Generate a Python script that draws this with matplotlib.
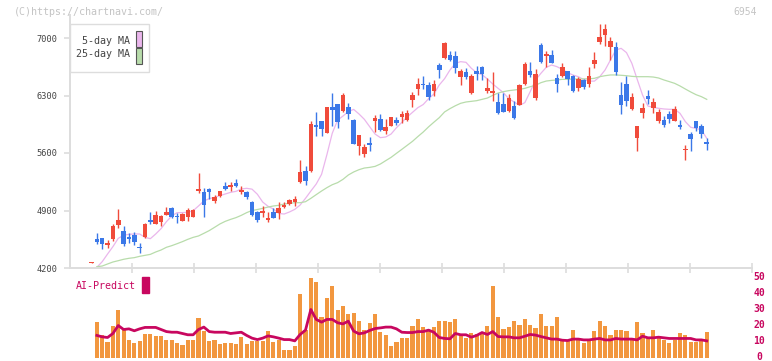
import numpy as np
import matplotlib
matplotlib.use('Agg')
import matplotlib.pyplot as plt
import matplotlib.transforms as mtransforms
from matplotlib.patches import Rectangle

plt.rcParams['font.family'] = 'DejaVu Sans Mono'

# daily candles (yen), oldest first
opens = [4266, 4553, 4565, 4484, 4553, 4727, 4650, 4573, 4602, 4460,
         4577, 4784, 4740, 4760, 4849, 4926, 4833, 4776, 4825, 4821,
         5137, 5125, 5162, 5020, 5081, 5202, 5190, 5239, 5129, 5125,
         5008, 4886, 4865, 4784, 4882, 4873, 4942, 4979, 5003, 5247,
         5381, 5385, 5941, 5989, 5847, 6156, 6196, 6115, 6160, 6002,
         5689, 5588, 5725, 5993, 6014, 5872, 5924, 6002, 6042, 6002,
         6245, 6383, 6440, 6428, 6359, 6671, 6760, 6793, 6781, 6529,
         6586, 6334, 6602, 6651, 6359, 6326, 6225, 6196, 6111, 6172,
         6184, 6440, 6602, 6265, 6915, 6781, 6797, 6517, 6537, 6602,
         6541, 6395, 6493, 6444, 6683, 6951, 7037, 6886, 6886, 6306,
         6440, 6140, 5787, 6091, 6294, 6152, 5994, 6002, 6075, 5994,
         5941, 5641, 5832, 5990, 5929, 5734]
highs = [4272, 4626, 4565, 4537, 4732, 4918, 4711, 4630, 4638, 4508,
         4744, 4882, 4890, 4841, 4943, 4939, 4865, 4865, 4930, 4914,
         5361, 5174, 5174, 5085, 5141, 5247, 5247, 5279, 5198, 5137,
         5020, 4890, 4955, 4886, 4930, 4999, 5007, 5040, 5072, 5515,
         5442, 5989, 6099, 5989, 6160, 6334, 6196, 6326, 6204, 6010,
         5819, 5709, 5790, 6062, 6079, 6010, 6038, 6042, 6115, 6123,
         6347, 6513, 6537, 6464, 6489, 6700, 6951, 6842, 6838, 6626,
         6635, 6561, 6659, 6659, 6517, 6590, 6334, 6334, 6318, 6229,
         6436, 6708, 6712, 6622, 6935, 6846, 6854, 6561, 6700, 6602,
         6549, 6529, 6505, 6651, 6830, 7171, 7171, 7008, 6951, 6469,
         6537, 6335, 5929, 6205, 6367, 6266, 6132, 6051, 6116, 6168,
         6002, 5698, 5856, 5990, 5953, 5787]
lows = [4266, 4496, 4435, 4448, 4533, 4687, 4468, 4500, 4480, 4387,
        4565, 4740, 4732, 4707, 4841, 4809, 4752, 4768, 4776, 4817,
        5109, 4825, 5044, 4987, 5068, 5150, 5141, 5190, 5101, 5036,
        4833, 4764, 4825, 4764, 4813, 4800, 4926, 4963, 4959, 5231,
        5214, 5373, 5807, 5807, 5839, 5929, 5908, 6103, 6014, 5705,
        5575, 5555, 5628, 5860, 5872, 5831, 5924, 5937, 5969, 5993,
        6164, 6306, 6383, 6245, 6294, 6513, 6744, 6716, 6578, 6428,
        6501, 6318, 6489, 6489, 6334, 6229, 6075, 6099, 6099, 6018,
        6184, 6428, 6521, 6241, 6700, 6651, 6700, 6347, 6521, 6428,
        6347, 6359, 6375, 6407, 6640, 6927, 6903, 6732, 6550, 6075,
        6172, 6124, 5628, 6030, 6197, 6091, 5969, 5913, 5969, 5994,
        5896, 5515, 5628, 5872, 5783, 5641]
closes = [4272, 4521, 4496, 4504, 4711, 4784, 4488, 4549, 4517, 4448,
          4736, 4760, 4849, 4833, 4882, 4821, 4817, 4857, 4906, 4906,
          5162, 4967, 5129, 5068, 5141, 5162, 5210, 5198, 5150, 5068,
          4845, 4784, 4894, 4808, 4813, 4930, 4967, 5024, 5040, 5368,
          5263, 5953, 5920, 5892, 6160, 6123, 5981, 6306, 6071, 5705,
          5819, 5669, 5701, 6026, 5880, 5916, 6038, 5961, 6075, 6091,
          6306, 6440, 6424, 6286, 6440, 6610, 6935, 6732, 6631, 6602,
          6529, 6541, 6562, 6562, 6395, 6351, 6091, 6103, 6269, 6030,
          6428, 6683, 6553, 6562, 6712, 6801, 6700, 6436, 6651, 6497,
          6359, 6501, 6407, 6537, 6732, 7016, 7110, 6964, 6590, 6184,
          6237, 6278, 5929, 6148, 6262, 6221, 6099, 5941, 6010, 6136,
          5921, 5653, 5775, 5909, 5832, 5714]

# moving averages as drawn (they begin on the second day)
ma5 = [4208, 4277, 4370, 4460, 4561, 4598, 4610, 4614, 4614, 4573,
       4557, 4614, 4679, 4764, 4833, 4874, 4874, 4878, 4898, 4955,
       5016, 5044, 5060, 5081, 5101, 5121, 5133, 5162, 5170, 5160,
       5098, 5003, 4951, 4918, 4865, 4857, 4882, 4914, 4967, 5048,
       5137, 5222, 5340, 5580, 5840, 6000, 6050, 6103, 6131, 6075,
       6010, 5920, 5831, 5787, 5795, 5831, 5908, 5973, 6038, 6095,
       6152, 6190, 6261, 6318, 6428, 6505, 6610, 6691, 6712, 6704,
       6631, 6578, 6553, 6501, 6440, 6387, 6334, 6261, 6221, 6180,
       6213, 6347, 6489, 6570, 6643, 6671, 6651, 6618, 6578, 6549,
       6529, 6493, 6475, 6475, 6529, 6611, 6732, 6854, 6874, 6822,
       6692, 6497, 6306, 6172, 6156, 6144, 6136, 6132, 6132, 6083,
       5982, 5913, 5900, 5880, 5779]
ma25 = [4216, 4224, 4249, 4273, 4289, 4306, 4318, 4326, 4342, 4354,
        4366, 4395, 4419, 4452, 4472, 4496, 4521, 4549, 4573, 4590,
        4622, 4655, 4695, 4736, 4768, 4792, 4813, 4841, 4874, 4900,
        4912, 4926, 4942, 4955, 4963, 4979, 4987, 4995, 4995, 5007,
        5048, 5093, 5137, 5178, 5214, 5239, 5279, 5332, 5369, 5397,
        5417, 5425, 5437, 5466, 5507, 5547, 5596, 5644, 5693, 5742,
        5800, 5855, 5918, 5975, 6030, 6100, 6140, 6175, 6205, 6221,
        6229, 6237, 6253, 6269, 6302, 6330, 6347, 6359, 6367, 6375,
        6387, 6407, 6424, 6456, 6476, 6484, 6489, 6497, 6497, 6501,
        6501, 6503, 6503, 6509, 6529, 6541, 6550, 6550, 6546, 6541,
        6533, 6529, 6529, 6529, 6525, 6513, 6489, 6469, 6448, 6416,
        6379, 6343, 6310, 6286, 6253]

# lower panel, also from the second day: volume (relative) and AI-Predict
volume = [22.5, 14.2, 10.0, 20.0, 29.4, 17.1, 10.8, 9.0, 10.2, 14.4,
          15.0, 13.3, 13.3, 10.8, 10.8, 9.0, 7.7, 10.8, 11.2, 25.0,
          16.5, 10.2, 10.8, 8.3, 9.0, 9.0, 8.3, 12.7, 8.3, 10.4,
          10.4, 10.2, 16.5, 9.4, 10.8, 5.0, 5.0, 6.9, 40.0, 16.9,
          49.4, 47.5, 25.6, 37.5, 45.0, 29.4, 32.5, 27.1, 28.1, 23.1,
          16.9, 21.5, 26.9, 15.8, 14.2, 7.5, 9.4, 12.5, 11.9, 20.0,
          23.8, 18.8, 17.5, 18.8, 23.1, 23.1, 21.9, 23.8, 14.4, 11.9,
          15.6, 14.4, 15.6, 20.0, 45.0, 25.6, 18.1, 18.8, 23.1, 20.6,
          23.8, 20.6, 18.3, 26.9, 20.0, 19.4, 25.6, 11.2, 10.2, 16.9,
          11.7, 8.8, 11.2, 16.5, 23.1, 19.4, 13.8, 16.9, 16.9, 16.5,
          11.2, 22.1, 15.6, 11.9, 17.5, 12.9, 10.8, 8.8, 11.2, 15.6,
          14.2, 9.4, 9.4, 11.2, 15.8]
ai_predict = [13.8, 12.9, 12.5, 15.0, 20.0, 17.5, 17.9, 16.7, 17.9, 18.8,
              18.8, 18.8, 17.5, 16.2, 15.8, 15.8, 15.0, 14.2, 14.2, 17.5,
              19.0, 16.2, 15.8, 15.8, 15.8, 15.0, 15.4, 15.8, 13.8, 12.1,
              11.2, 12.1, 13.5, 12.9, 12.1, 11.2, 11.2, 10.4, 14.4, 17.1,
              30.0, 23.8, 22.1, 23.8, 23.8, 21.7, 21.0, 22.7, 16.5, 14.8,
              15.4, 16.9, 18.1, 18.5, 19.0, 19.0, 17.9, 15.8, 15.6, 15.6,
              16.2, 16.2, 17.1, 15.8, 12.5, 11.9, 11.7, 15.0, 14.2, 14.2,
              12.7, 13.8, 15.6, 14.4, 16.2, 13.1, 12.9, 12.9, 12.3, 12.3,
              13.3, 14.4, 14.0, 13.1, 12.3, 11.5, 11.5, 10.8, 10.6, 11.5,
              11.5, 11.0, 11.0, 11.5, 11.9, 11.0, 11.0, 11.9, 11.5, 11.5,
              11.5, 11.0, 13.3, 12.3, 12.3, 12.7, 12.3, 11.9, 11.9, 11.9,
              11.9, 11.9, 11.0, 11.0, 10.4]

date_labels = ['10/27', '11/11', '11/26', '12/10', '12/24', '1/13',
               '1/27', '2/10', '2/26', '3/12', '3/27']
date_label_days = [15, 25, 35, 45, 55, 65, 75, 85, 95, 105, 115]
price_ticks = [4200, 4900, 5600, 6300, 7000]
ai_ticks = [0, 10, 20, 30, 40, 50]
ma_names = ['5-day MA', '25-day MA']
code = '6954'

red = '#f04b3b'
blue = '#3b78e8'
pink = '#eab6ec'
green = '#b8dcab'
orange = '#f2973f'
magenta = '#c8075f'
axis_grey = '#dddddd'
text_grey = '#444444'

W, H = 772, 361
fig = plt.figure(figsize=(W / 100, H / 100), dpi=100)

# helpers: figure pixels (from top-left) -> figure fraction
px = lambda x: x / W
py = lambda y: 1 - y / H

xlim = (-4.02, 123.46)

# price panel
ax = fig.add_axes([px(70), py(268), 682 / W, 253 / H])
ax.set_xlim(*xlim)
ax.set_ylim(4200, 7280)

days = np.arange(len(opens))
o = np.array(opens); h = np.array(highs); l = np.array(lows); c = np.array(closes)
cols = np.where(c >= o, red, blue)
ax.vlines(days, l, h, colors=cols, lw=1.0, zorder=3)
body_lo = np.minimum(o, c)
body_h = np.maximum(np.abs(c - o), 12)
ax.bar(days, body_h, bottom=body_lo, width=0.85, color=cols, linewidth=0, zorder=3)

ax.plot(days[1:], ma5, color=pink, lw=0.9, zorder=2)
ax.plot(days[1:], ma25, color=green, lw=0.9, zorder=2)

for s in ['top', 'right']:
    ax.spines[s].set_visible(False)
for s in ['left', 'bottom']:
    ax.spines[s].set_color(axis_grey)
    ax.spines[s].set_linewidth(1.4)

ax.set_yticks(price_ticks)
ax.set_yticklabels([str(t) for t in price_ticks])
ax.tick_params(axis='y', direction='out', length=4, width=1.2, color=axis_grey,
               labelsize=6.2, labelcolor=text_grey, pad=5)
ax.set_xticks(np.linspace(xlim[0], xlim[1], 12)[1:])
ax.set_xticklabels([])
ax.tick_params(axis='x', direction='inout', length=7, width=1.2, color=axis_grey)

trans = mtransforms.blended_transform_factory(ax.transData, ax.transAxes)
for d, lab in zip(date_label_days, date_labels):
    ax.text(d, -18 / 253, lab, transform=trans, ha='center', va='center',
            fontsize=6.2, color=text_grey)

# legend box, drawn by hand to match the original's layout
fig.add_artist(Rectangle((px(70), py(71.5)), 78.5 / W, 47.5 / H,
                         transform=fig.transFigure, facecolor='white',
                         edgecolor=axis_grey, lw=1.0, zorder=5))
for name, colr, ty, top, bot in zip(ma_names, [pink, green],
                                    [41.5, 54.0], [31, 48.3], [46.5, 63.5]):
    fig.text(px(129.5), py(ty), name, ha='right', va='center', fontsize=7.2,
             color=text_grey, zorder=6)
    fig.add_artist(Rectangle((px(136.3), py(bot)), 6 / W, (bot - top) / H,
                             transform=fig.transFigure, facecolor=colr,
                             edgecolor='#555555', lw=0.8, zorder=6))

# AI-Predict panel
axv = fig.add_axes([px(70), py(357.5), 682 / W, 80 / H])
axv.set_xlim(*xlim)
axv.set_ylim(0, 50)
axv.bar(days[1:], volume, width=0.78, color=orange, linewidth=0)
axv.plot(days[1:], ai_predict, color=magenta, lw=2.0)
for s in axv.spines.values():
    s.set_visible(False)
axv.set_xticks([])
axv.yaxis.tick_right()
axv.set_yticks(ai_ticks)
axv.set_yticklabels([str(t) for t in ai_ticks])
axv.tick_params(axis='y', length=0, pad=5, labelsize=7.0, labelcolor=magenta)
lift = mtransforms.ScaledTranslation(0, 2 / 100, fig.dpi_scale_trans)
for t in axv.get_yticklabels():
    t.set_horizontalalignment('center')
    t.set_fontweight('bold')
    t.set_transform(t.get_transform() + lift)

fig.text(px(76), py(286), 'AI-Predict', color=magenta, fontsize=7.2, va='center')
fig.add_artist(Rectangle((px(142), py(293)), 7 / W, 16 / H,
                         transform=fig.transFigure, color=magenta))

fig.text(px(14), py(12), '(C)https://chartnavi.com/', color='#c4c4c4',
         fontsize=7.2, va='center')
fig.text(px(757), py(12), code, color='#c4c4c4', fontsize=7.0,
         va='center', ha='right')

fig.savefig('out.png', dpi=100)
